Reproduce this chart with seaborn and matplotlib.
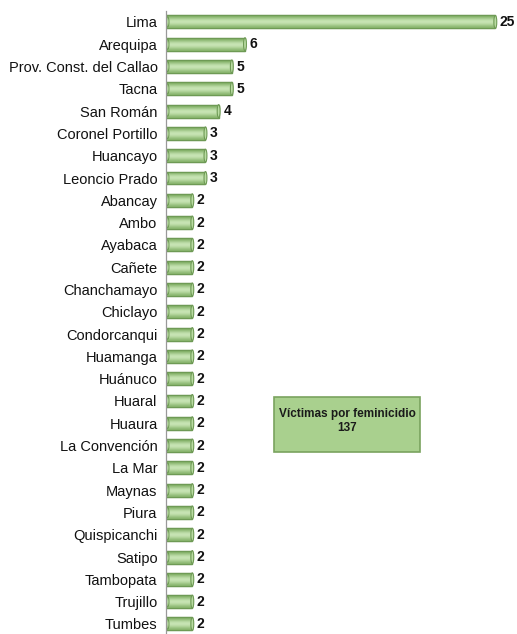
import matplotlib
matplotlib.use("Agg")
import matplotlib.pyplot as plt
import seaborn as sns
import numpy as np
import pandas as pd
from matplotlib.patches import Rectangle, Ellipse
from matplotlib.ticker import FixedLocator
from matplotlib.colors import LinearSegmentedColormap

provincias = ["Lima", "Arequipa", "Prov. Const. del Callao", "Tacna", "San Román",
              "Coronel Portillo", "Huancayo", "Leoncio Prado", "Abancay", "Ambo",
              "Ayabaca", "Cañete", "Chanchamayo", "Chiclayo", "Condorcanqui",
              "Huamanga", "Huánuco", "Huaral", "Huaura", "La Convención", "La Mar",
              "Maynas", "Piura", "Quispicanchi", "Satipo", "Tambopata", "Trujillo", "Tumbes"]
victimas = [25, 6, 5, 5, 4, 3, 3, 3, 2, 2, 2, 2, 2, 2, 2, 2, 2, 2, 2, 2, 2, 2, 2, 2, 2, 2, 2, 2]
total_titulo = "Víctimas por feminicidio"
total_valor = "137"

sns.set_style("white")
plt.rcParams["font.family"] = ["Liberation Sans", "DejaVu Sans"]

df = pd.DataFrame({"provincia": provincias, "victimas": victimas})

fig = plt.figure(figsize=(5.17, 6.34), dpi=100)
ax = fig.add_axes([0.321, 0.0, 0.66, 0.983])

sns.barplot(data=df, x="victimas", y="provincia", orient="h", ax=ax,
            color="#a8cf8c", edgecolor="#6e9a55", linewidth=0.9, width=0.58,
            saturation=1)

xmax = 25.9
ylim = (len(provincias) - 1 + 0.45, -0.5)
ax.set_xlim(0, xmax)
ax.set_ylim(*ylim)

# cylinder-like gradient
grad = np.array([0.0, 0.35, 0.8, 1.0, 0.85, 0.5, 0.15]).reshape(-1, 1)
cmap = LinearSegmentedColormap.from_list("cyl", ["#7fae63", "#cbe7b8"])
for p in list(ax.patches):
    x0, y0 = p.get_x(), p.get_y()
    w, h = p.get_width(), p.get_height()
    z = p.get_zorder()
    im = ax.imshow(grad, cmap=cmap, aspect="auto", extent=[x0, x0 + w, y0 + h, y0],
                   interpolation="bicubic", zorder=z + 0.1)
    im.set_clip_path(p)
    ax.add_patch(Rectangle((x0, y0), w, h, fill=False, edgecolor="#6e9a55",
                           linewidth=0.9, zorder=z + 0.2))
    ew = 0.22
    ax.add_patch(Ellipse((x0 + 0.12, y0 + h / 2), ew, h * 0.8, fill=False,
                         edgecolor="#6e9a55", lw=0.7, zorder=z + 0.3))
    ax.add_patch(Ellipse((x0 + w, y0 + h / 2), ew, h, facecolor="#b9dca2",
                         edgecolor="#6e9a55", lw=0.8, zorder=z + 0.3))

ax.set_xlim(0, xmax)
ax.set_ylim(*ylim)

for i, v in enumerate(victimas):
    ax.text(v + 0.35, i, str(v), va="center", ha="left", fontsize=10,
            fontweight="bold", color="#111111")

ax.set_xlabel("")
ax.set_ylabel("")
ax.xaxis.set_visible(False)
for s in ["top", "right", "bottom"]:
    ax.spines[s].set_visible(False)
ax.spines["left"].set_color("#999999")
ax.spines["left"].set_linewidth(0.9)
ax.tick_params(axis="y", which="major", length=0, labelsize=10.5, pad=6, labelcolor="#111111")
ax.yaxis.set_minor_locator(FixedLocator(np.arange(-0.5, len(provincias), 1)))
ax.tick_params(axis="y", which="minor", length=4, color="#999999", width=0.8)

# summary box
fig.patches.append(Rectangle((274 / 517, 1 - 452 / 634), 146 / 517, 55 / 634,
                             transform=fig.transFigure, facecolor="#a9d08e",
                             edgecolor="#7aa35f", linewidth=1.2, zorder=5))
fig.text(347 / 517, 1 - 421 / 634, total_titulo + "\n" + total_valor, ha="center",
         va="center", fontsize=8.5, fontweight="bold", color="#1a1a1a",
         linespacing=1.15, zorder=6)

fig.savefig("out.png", dpi=100)
